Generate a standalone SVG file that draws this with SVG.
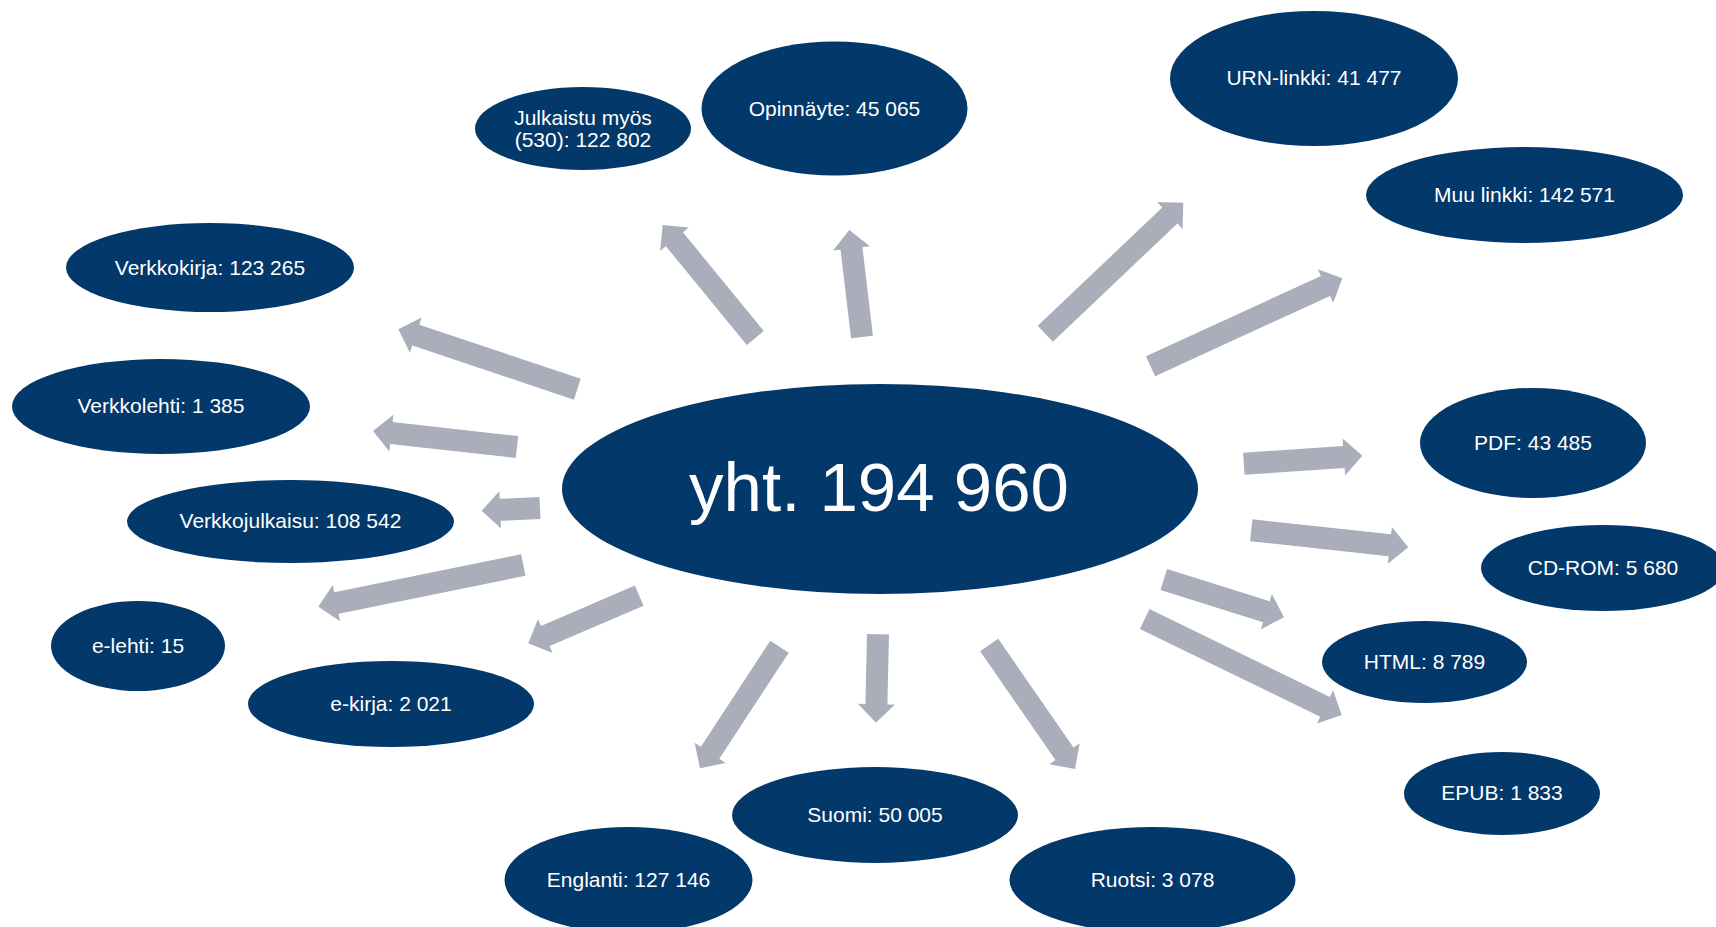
<svg xmlns="http://www.w3.org/2000/svg" width="1716" height="927" viewBox="0 0 1716 927">
<style>
.n{fill:#03386A}
.t{fill:#FFFFFF;font-family:"Liberation Sans",Arial,sans-serif;font-size:21px;text-anchor:middle}
.big{font-size:69px}
.a{fill:#AAAEBA}
</style>
<rect width="1716" height="927" fill="#FFFFFF"/>
<g id="connectors">
<path class="a" transform="translate(755.3,338) rotate(-129.33)" d="M0,-11H127.6V-18.5L146.1,0L127.6,18.5V11H0Z"/>
<path class="a" transform="translate(862,337) rotate(-96.77)" d="M0,-11H89.25V-18.5L107.75,0L89.25,18.5V11H0Z"/>
<path class="a" transform="translate(1045.3,333.8) rotate(-43.53)" d="M0,-11H171.8V-18.5L190.3,0L171.8,18.5V11H0Z"/>
<path class="a" transform="translate(1150.5,366.2) rotate(-24.62)" d="M0,-11H192.5V-18.5L211,0L192.5,18.5V11H0Z"/>
<path class="a" transform="translate(577.3,389.2) rotate(-161.5)" d="M0,-11H170.3V-18.5L188.8,0L170.3,18.5V11H0Z"/>
<path class="a" transform="translate(517,447) rotate(-173.66)" d="M0,-11H126.4V-18.5L144.9,0L126.4,18.5V11H0Z"/>
<path class="a" transform="translate(540,508) rotate(177.35)" d="M0,-11H39.9V-18.5L58.4,0L39.9,18.5V11H0Z"/>
<path class="a" transform="translate(523.3,565) rotate(168.5)" d="M0,-11H190.7V-18.5L209.2,0L190.7,18.5V11H0Z"/>
<path class="a" transform="translate(639.2,595.7) rotate(156.77)" d="M0,-11H102.2V-18.5L120.7,0L102.2,18.5V11H0Z"/>
<path class="a" transform="translate(779.5,646.7) rotate(123.18)" d="M0,-11H126.8V-18.5L145.3,0L126.8,18.5V11H0Z"/>
<path class="a" transform="translate(878,634.3) rotate(91.3)" d="M0,-11H69.9V-18.5L88.4,0L69.9,18.5V11H0Z"/>
<path class="a" transform="translate(989.2,645) rotate(55.32)" d="M0,-11H132.3V-18.5L150.8,0L132.3,18.5V11H0Z"/>
<path class="a" transform="translate(1243.8,463.8) rotate(-3.91)" d="M0,-11H100.3V-18.5L118.8,0L100.3,18.5V11H0Z"/>
<path class="a" transform="translate(1251.2,530.2) rotate(6.21)" d="M0,-11H139.5V-18.5L158,0L139.5,18.5V11H0Z"/>
<path class="a" transform="translate(1163.8,579.5) rotate(17.46)" d="M0,-11H107.5V-18.5L126,0L107.5,18.5V11H0Z"/>
<path class="a" transform="translate(1144.7,619) rotate(25.98)" d="M0,-11H200.6V-18.5L219.1,0L200.6,18.5V11H0Z"/>
</g>
<g id="center"><ellipse class="n" cx="880" cy="489" rx="318" ry="105"/><text class="t big" x="879" y="511">yht. 194 960</text></g>
<g id="julkaistu"><ellipse class="n" cx="583" cy="128.5" rx="108" ry="41.5"/><text class="t" x="583" y="124.5">Julkaistu myös</text><text class="t" x="583" y="146.5">(530): 122 802</text></g>
<g id="opinnayte"><ellipse class="n" cx="834.5" cy="108.5" rx="133" ry="67"/><text class="t" x="834.5" y="115.5">Opinnäyte: 45 065</text></g>
<g id="urn"><ellipse class="n" cx="1314" cy="78.5" rx="144" ry="67.5"/><text class="t" x="1314" y="85">URN-linkki: 41 477</text></g>
<g id="muu"><ellipse class="n" cx="1524.5" cy="195" rx="158.5" ry="48"/><text class="t" x="1524.5" y="201.5">Muu linkki: 142 571</text></g>
<g id="verkkokirja"><ellipse class="n" cx="210" cy="267.5" rx="144" ry="44.5"/><text class="t" x="210" y="274.5">Verkkokirja: 123 265</text></g>
<g id="verkkolehti"><ellipse class="n" cx="161" cy="406.5" rx="149" ry="47.5"/><text class="t" x="161" y="413">Verkkolehti: 1 385</text></g>
<g id="verkkojulkaisu"><ellipse class="n" cx="290.5" cy="521.5" rx="163.5" ry="41.5"/><text class="t" x="290.5" y="528">Verkkojulkaisu: 108 542</text></g>
<g id="elehti"><ellipse class="n" cx="138" cy="646" rx="87" ry="45"/><text class="t" x="138" y="652.5">e-lehti: 15</text></g>
<g id="ekirja"><ellipse class="n" cx="391" cy="704" rx="143" ry="43"/><text class="t" x="391" y="710.5">e-kirja: 2 021</text></g>
<g id="englanti"><ellipse class="n" cx="628.5" cy="880" rx="124" ry="53"/><text class="t" x="628.5" y="886.5">Englanti: 127 146</text></g>
<g id="suomi"><ellipse class="n" cx="875" cy="815" rx="143" ry="48"/><text class="t" x="875" y="821.5">Suomi: 50 005</text></g>
<g id="ruotsi"><ellipse class="n" cx="1152.5" cy="880" rx="143" ry="53"/><text class="t" x="1152.5" y="886.5">Ruotsi: 3 078</text></g>
<g id="pdf"><ellipse class="n" cx="1533" cy="443" rx="113" ry="55"/><text class="t" x="1533" y="449.5">PDF: 43 485</text></g>
<g id="cdrom"><ellipse class="n" cx="1603" cy="568" rx="122" ry="43"/><text class="t" x="1603" y="574.5">CD-ROM: 5 680</text></g>
<g id="html"><ellipse class="n" cx="1424.5" cy="662" rx="102.5" ry="41"/><text class="t" x="1424.5" y="668.5">HTML: 8 789</text></g>
<g id="epub"><ellipse class="n" cx="1502" cy="793.5" rx="98" ry="41.5"/><text class="t" x="1502" y="800">EPUB: 1 833</text></g>
</svg>
